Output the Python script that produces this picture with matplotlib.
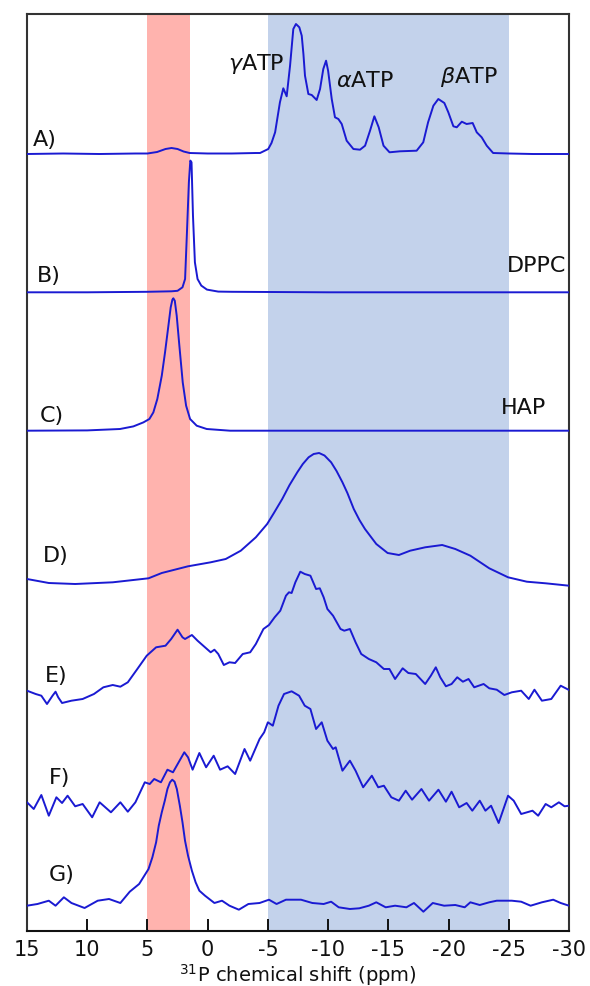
import matplotlib
matplotlib.use("Agg")
import matplotlib.pyplot as plt

plt.rcParams['font.family'] = ['DejaVu Sans']
plt.rcParams['axes.unicode_minus'] = False
plt.rcParams['mathtext.fontset'] = 'dejavusans'

# ---- data: chemical shift (ppm) and intensity (arbitrary units) per spectrum ----
a_ppm = [15.0, 12.0, 9.0, 6.0, 5.0, 4.2, 3.5, 3.0, 2.5, 2.0, 1.5, 0.0, -2.0, -4.0, -4.35,
         -5.03, -5.3, -5.6, -6.0, -6.28, -6.56, -6.84, -7.0, -7.11, -7.33, -7.61, -7.81, -7.95,
         -8.08, -8.36, -8.64, -9.05, -9.33, -9.6, -9.83, -10.0, -10.3, -10.57, -10.85,
         -11.13, -11.54, -12.1, -12.65, -13.07, -13.48, -13.84, -14.2, -14.6, -15.1, -15.97,
         -17.35, -17.9, -18.3, -18.74, -19.15, -19.65, -19.98, -20.4, -20.68, -21.1, -21.5,
         -22.0, -22.34, -22.75, -23.17, -23.7, -25.0, -27.0, -30.0]
a_int = [0, 0.5, 0, 0.5, 0.5, 2, 5, 6, 5, 2.5, 1, 0.5, 0.5, 1, 1,
         5, 11, 21.7, 51.7, 65.7, 57.7, 88.3, 110, 125, 130, 126.7, 118.3, 100,
         78.3, 60, 59, 54, 65, 85, 93.3, 83.3, 55, 36.7, 35,
         30, 13.3, 5, 4.3, 8.3, 23.3, 37.7, 26.7, 8.3, 1.7, 2.7,
         3.3, 11.7, 31.7, 48.3, 55, 51, 41.7, 27.7, 26.7, 32.3, 30,
         31, 21.7, 16.7, 8.3, 1, 0.5, 0, 0]

b_ppm = [15.0, 10.0, 5.0, 3.0, 2.5, 2.09, 1.875, 1.72, 1.56, 1.44, 1.34, 1.22, 1.06,
         0.84, 0.53, 0.06, -0.88, -2.0, -10.0, -20.0, -30.0]
b_int = [0, 0, 0.5, 1, 1.5, 5, 13.3, 60, 110, 131.7, 130, 76.7, 30,
         13.3, 6.7, 2.7, 0.7, 0.5, 0, 0, 0]

c_ppm = [15.0, 10.0, 7.28, 6.17, 5.34, 4.84, 4.51, 4.18, 3.81, 3.54, 3.26, 3.07, 2.93,
         2.85, 2.73, 2.57, 2.35, 2.07, 1.79, 1.46, 0.91, 0.08, -1.86, -10.0, -30.0]
c_int = [0, 0.3, 1.7, 4.3, 8.3, 11.7, 18.3, 31.7, 55, 78.3, 105, 123.3, 131,
         132.4, 130, 115, 85, 48.3, 25, 11.7, 5, 1.7, 0, 0, 0]

d_ppm = [15.0, 13.19, 11.0, 7.88, 4.91, 3.81, 1.63, -0.25, -1.5, -2.75, -4.0, -4.94,
         -5.5, -6.19, -6.8, -7.44, -7.9, -8.38, -8.8, -9.25, -9.7, -10.25, -10.7, -11.19,
         -11.6, -12.13, -12.6, -13.06, -14.0, -14.94, -15.88, -16.81, -18.06, -19.47,
         -20.56, -21.81, -23.38, -24.94, -26.5, -28.06, -30.0]
d_int = [7, 3, 2, 3.7, 7.7, 13, 19.7, 23.7, 27, 35.3, 48.7, 62,
         73, 87, 101, 113.7, 122, 128.7, 132, 133, 130.5, 123.7, 115, 103.7,
         93, 77, 66, 57, 42, 33, 31, 35.3, 38.7, 41,
         37, 30.3, 17.7, 8.7, 4.3, 2.7, 0.3]

e_ppm = [15.00, 14.28, 13.81, 13.34, 12.88, 12.63, 12.41, 12.09, 11.31, 10.38,
         9.44, 8.66, 7.88, 7.25, 6.63, 5.84, 5.06, 4.28, 3.50, 3.03,
         2.50, 2.09, 1.88, 1.31, 0.84, 0.22, -0.25, -0.56, -0.88, -1.34,
         -1.81, -2.28, -2.91, -3.53, -4.00, -4.63, -5.09, -5.56, -6.03, -6.50,
         -6.75, -6.97, -7.28, -7.69, -8.06, -8.53, -9.00, -9.31, -9.63, -9.94,
         -10.41, -11.03, -11.34, -11.81, -12.28, -12.75, -13.38, -14.00, -14.63, -15.09,
         -15.56, -16.19, -16.66, -17.28, -18.06, -18.53, -18.94, -19.31, -19.78, -20.25,
         -20.72, -21.19, -21.66, -22.13, -22.91, -23.38, -24.00, -24.63, -25.25, -26.03,
         -26.66, -27.13, -27.75, -28.53, -29.31, -30.00]
e_int = [13.3, 10, 8.3, 0, 8.3, 12.3, 6.7, 1, 3.3, 5,
         10, 16.7, 19, 17.3, 21.7, 35, 48.3, 56.7, 58.3, 65,
         74.3, 66.7, 65, 69, 63.3, 56.7, 51.7, 54.3, 50, 39,
         41.7, 41, 50, 51.7, 60, 75, 79, 86.7, 93.3, 108.3,
         111.7, 111, 121.7, 132.3, 130, 128.3, 115, 115.7, 106.7, 95,
         88.3, 75, 73.3, 75, 61.7, 50, 45, 41.7, 35, 35,
         25, 35.7, 31, 30, 20, 28.3, 36.7, 26.7, 17.7, 20,
         26.7, 22.3, 25, 16.7, 20, 15.7, 14.3, 9, 11.7, 13.3,
         5, 14.3, 3.3, 5, 18.3, 14]

f_ppm = [15.00, 14.44, 13.81, 13.19, 12.56, 12.09, 11.63, 11.00, 10.38, 9.59,
         8.97, 8.03, 7.25, 6.63, 6.00, 5.22, 4.81, 4.44, 3.88, 3.34,
         2.88, 2.41, 1.94, 1.63, 1.25, 0.69, 0.13, -0.50, -1.03, -1.66,
         -2.28, -3.06, -3.53, -4.31, -4.69, -5.00, -5.41, -5.88, -6.34, -6.97,
         -7.59, -8.06, -8.53, -9.00, -9.47, -9.94, -10.41, -10.63, -11.19, -11.81,
         -12.28, -12.91, -13.63, -14.16, -14.63, -15.25, -15.88, -16.44, -16.97, -17.75,
         -18.38, -19.16, -19.78, -20.25, -20.88, -21.50, -21.97, -22.59, -23.06, -23.53,
         -24.16, -24.94, -25.41, -26.03, -26.97, -27.44, -28.06, -28.53, -29.16, -29.63,
         -30.00]
f_int = [21.7, 15, 29, 8.3, 26.7, 21, 28.3, 17.7, 20, 6.7,
         21.7, 11.7, 21.7, 12.3, 21.7, 41.7, 40, 45, 41.7, 54.3,
         51.7, 61.7, 71.7, 66.7, 54.3, 71, 56.7, 68.3, 54.3, 57.7,
         50, 75, 63.3, 85, 91.7, 101.7, 98.3, 118.3, 130, 132.7,
         128.3, 118.3, 115, 95, 101.7, 83.3, 75, 76.7, 53.3, 63.3,
         53.3, 36.7, 48.3, 36.7, 38.3, 26.7, 23.3, 33.3, 24.3, 35,
         23.3, 34.3, 22.3, 32.3, 16.7, 21, 13.3, 23.3, 13.3, 18.3,
         1, 28.3, 23.3, 10, 13.3, 8.3, 20, 16.7, 21.7, 17.7,
         18.3]

g_ppm = [15.00, 14.13, 13.19, 12.63, 11.94, 11.31, 10.22, 9.13, 8.19, 7.25,
         6.47, 5.69, 4.91, 4.59, 4.28, 4.06, 3.81, 3.56, 3.34, 3.13, 2.94, 2.75,
         2.56, 2.31, 2.09, 1.88, 1.63, 1.31, 1.00, 0.69, 0.22,
         -0.56, -1.19, -1.81, -2.59, -3.38, -4.31, -5.09, -5.72,
         -6.50, -7.75, -8.69, -9.63, -10.25, -10.88, -11.81, -12.59, -13.38, -14.00,
         -14.78, -15.56, -16.50, -17.13, -17.91, -18.69, -19.63, -20.56, -21.34, -21.81,
         -22.59, -23.38, -24.00, -25.25, -26.03, -26.81, -27.75, -28.69, -29.31, -30.00]
g_int = [6.3, 8, 11.3, 6.3, 14.7, 9, 4, 11.3, 13, 9,
         20.3, 28, 43, 54.7, 69.7, 86.3, 99.7, 111.3, 123, 129.7, 132.3, 130.3,
         123, 106.3, 89.7, 71.3, 56.3, 41.3, 29.7, 21.3, 16.3,
         9, 11.3, 6.3, 2.3, 8, 9, 12.3, 8,
         12.3, 12.3, 9, 8, 10.3, 4.7, 3, 3.7, 6.3, 9.7,
         4.7, 6.3, 4.7, 9, 0.3, 9, 6.3, 7, 4.7, 9.7,
         7, 9.7, 11.3, 11.3, 10.3, 6.3, 9.7, 12.3, 9, 6.3]

labels = ['A)', 'B)', 'C)', 'D)', 'E)', 'F)', 'G)']
spectra = [(a_ppm, a_int), (b_ppm, b_int), (c_ppm, c_int), (d_ppm, d_int),
           (e_ppm, e_int), (f_ppm, f_int), (g_ppm, g_int)]

# ---- layout (vertical stacking offsets and label positions) ----
offsets = [777, 638.7, 500.3, 345, 227, 107, 19]
label_x = [14.5, 14.2, 13.96, 13.67, 13.5, 13.17, 13.17]
label_y = [792, 656, 516, 376, 256, 154, 57]

line_col = '#1a1ad2'
txt_col = '#111111'

fig = plt.figure(figsize=(5.9, 9.87), dpi=100)
ax = fig.add_axes([27/590, 55/987, 542/590, 917/987])

ax.axvspan(5, 1.5, color='#ffb3ae', lw=0, zorder=0)
ax.axvspan(-5, -25, color='#c3d2eb', lw=0, zorder=0)

for (x, y), off, lab, lx, ly in zip(spectra, offsets, labels, label_x, label_y):
    ax.plot(x, [v + off for v in y], color=line_col, lw=1.4, zorder=3,
            solid_joinstyle='round')
    ax.text(lx, ly, lab, fontsize=16, ha='left', va='center', color=txt_col)

ax.text(-1.69, 868, r'$\gamma$ATP', fontsize=16, ha='left', va='center', color=txt_col)
ax.text(-10.66, 851, r'$\alpha$ATP', fontsize=16, ha='left', va='center', color=txt_col)
ax.text(-19.3, 855, r'$\beta$ATP', fontsize=16, ha='left', va='center', color=txt_col)
ax.text(-29.77, 666.5, 'DPPC', fontsize=16, ha='right', va='center', color=txt_col)
ax.text(-24.33, 524, 'HAP', fontsize=16, ha='left', va='center', color=txt_col)

ax.set_xlim(15, -30)
ax.set_ylim(0, 917)
ax.set_xticks([15, 10, 5, 0, -5, -10, -15, -20, -25, -30])
ax.set_yticks([])
ax.tick_params(axis='x', direction='in', length=8.5, width=1.4, pad=6,
               labelsize=15, colors=txt_col)

for side in ['top', 'right', 'left']:
    ax.spines[side].set_color('#333333')
    ax.spines[side].set_linewidth(1.5)
ax.spines['bottom'].set_color(txt_col)
ax.spines['bottom'].set_linewidth(1.5)

ax.set_xlabel(r'$^{31}$P chemical shift (ppm)', fontsize=14, color=txt_col)
ax.xaxis.set_label_coords(0.5, -0.0325)

fig.savefig('out.png', dpi=100, facecolor='white')
